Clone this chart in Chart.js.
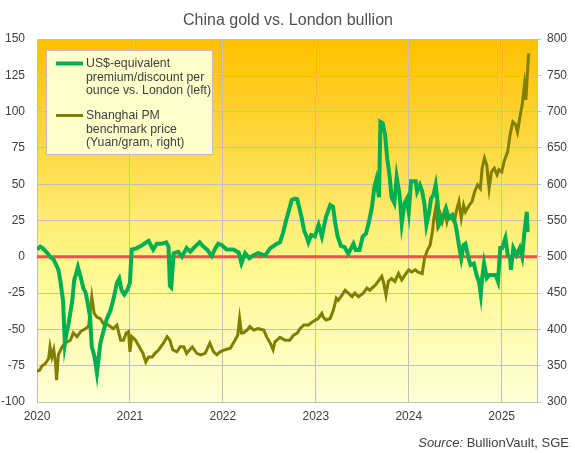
<!DOCTYPE html>
<html>
<head>
<meta charset="utf-8">
<script src="https://cdn.jsdelivr.net/npm/chart.js@4.4.1/dist/chart.umd.min.js"></script>
<style>
  html, body { margin: 0; padding: 0; background: #fff; }
  #wrap { width: 575px; height: 453px; position: relative; }
</style>
</head>
<body>
<div id="wrap"><canvas id="grafico"></canvas></div>
<script>
// Premium/discount in US$ per ounce (left axis)
const premiumDates = [
  2020.00, 2020.035, 2020.06, 2020.09, 2020.12, 2020.14, 2020.18, 2020.21, 2020.23, 2020.25,
  2020.28, 2020.30, 2020.32, 2020.34, 2020.38, 2020.40, 2020.42, 2020.44, 2020.47, 2020.50,
  2020.52, 2020.54, 2020.57, 2020.59, 2020.62, 2020.645, 2020.66, 2020.68, 2020.72, 2020.75,
  2020.79, 2020.82, 2020.86, 2020.885, 2020.91, 2020.94, 2020.97, 2021.00, 2021.01, 2021.02,
  2021.075, 2021.13, 2021.20, 2021.25, 2021.29, 2021.34, 2021.39, 2021.415, 2021.43, 2021.445,
  2021.47, 2021.52, 2021.56, 2021.61, 2021.65, 2021.70, 2021.75, 2021.79, 2021.83, 2021.88,
  2021.92, 2021.95, 2021.99, 2022.04, 2022.11, 2022.17, 2022.20, 2022.24, 2022.285, 2022.33,
  2022.38, 2022.455, 2022.51, 2022.58, 2022.615, 2022.65, 2022.68, 2022.715, 2022.74, 2022.77,
  2022.80, 2022.82, 2022.845, 2022.875, 2022.90, 2022.92, 2022.95, 2022.99, 2023.03, 2023.065,
  2023.11, 2023.155, 2023.185, 2023.21, 2023.235, 2023.27, 2023.31, 2023.35, 2023.38, 2023.405,
  2023.43, 2023.47, 2023.505, 2023.54, 2023.575, 2023.605, 2023.63, 2023.65, 2023.68, 2023.695,
  2023.72, 2023.745, 2023.77, 2023.795, 2023.815, 2023.845, 2023.87, 2023.90, 2023.925, 2023.955,
  2023.98, 2024.00, 2024.025, 2024.075, 2024.09, 2024.12, 2024.145, 2024.17, 2024.19, 2024.22,
  2024.24, 2024.265, 2024.29, 2024.31, 2024.325, 2024.36, 2024.40, 2024.43, 2024.47, 2024.505,
  2024.54, 2024.565, 2024.59, 2024.61, 2024.64, 2024.665, 2024.70, 2024.73, 2024.755, 2024.775,
  2024.79, 2024.81, 2024.84, 2024.865, 2024.90, 2024.935, 2024.96, 2024.985, 2025.005, 2025.04,
  2025.065, 2025.09, 2025.10, 2025.125, 2025.16, 2025.195, 2025.22, 2025.245, 2025.27, 2025.28
];
const premiumValues = [
  5, 7, 6, 4, 2, 0, -2, -6, -9, -16,
  -30, -60, -52, -46, -30, -16, -12, -7, -14, -22,
  -24, -30, -41, -62, -69, -80, -72, -60, -50, -43,
  -37, -30, -18, -15, -23, -26, -23, -18, -5, 5,
  6, 8, 11, 5, 9, 9, 10, 7, -20, -21,
  2.5, 3.5, 0, 6, 3.5, 7, 10, 7, 5, 0.5,
  6, 9, 8, 5, 5, 3, -4.5, 2.5, -1, 1,
  2.5, 1, 6, 9, 10, 17, 25, 33, 39, 40,
  39.6, 34.5, 27.6, 18, 14, 10, 15, 14, 22, 14,
  27.6, 35.7, 34.5, 23, 14, 7.5, 6.6, 2, 6, 9,
  4.7, 4.7, 14, 16, 25, 34.5, 48, 53, 41, 93,
  92, 84, 67, 55, 41, 37, 55, 43.5, 23, 37,
  40, 31, 52, 52, 45, 49.5, 45, 35.7, 22, 31,
  40, 42.5, 49.5, 38, 22, 26.5, 33.4, 26.5, 28.8, 22,
  8, -1, 8, 9, 0, -5.6, -4.5, -12.6, -17, -26,
  -14.6, -4.5, -14.6, -12.6, -12.6, -12.6, -17, 6, 6, 13,
  1.2, -1, -9, 6, 1.2, 6, 0, 17, 31, 17
];

// Shanghai PM benchmark, Yuan per gram (right axis)
const priceDates = [
  2020.00, 2020.03, 2020.05, 2020.09, 2020.125, 2020.14, 2020.16, 2020.18, 2020.20, 2020.21,
  2020.23, 2020.27, 2020.30, 2020.36, 2020.39, 2020.43, 2020.47, 2020.52, 2020.555, 2020.57,
  2020.59, 2020.615, 2020.645, 2020.68, 2020.715, 2020.77, 2020.82, 2020.86, 2020.90, 2020.93,
  2020.96, 2020.985, 2021.00, 2021.02, 2021.06, 2021.10, 2021.14, 2021.17, 2021.20, 2021.24,
  2021.27, 2021.31, 2021.36, 2021.40, 2021.43, 2021.46, 2021.505, 2021.54, 2021.58, 2021.61,
  2021.67, 2021.72, 2021.76, 2021.81, 2021.86, 2021.90, 2021.935, 2021.97, 2022.025, 2022.08,
  2022.13, 2022.16, 2022.18, 2022.20, 2022.22, 2022.26, 2022.29, 2022.33, 2022.38, 2022.44,
  2022.47, 2022.51, 2022.54, 2022.56, 2022.615, 2022.67, 2022.72, 2022.76, 2022.80, 2022.83,
  2022.87, 2022.92, 2022.97, 2023.025, 2023.065, 2023.08, 2023.11, 2023.155, 2023.19, 2023.22,
  2023.24, 2023.28, 2023.315, 2023.35, 2023.39, 2023.42, 2023.46, 2023.51, 2023.55, 2023.58,
  2023.64, 2023.67, 2023.71, 2023.73, 2023.755, 2023.78, 2023.815, 2023.85, 2023.89, 2023.925,
  2023.96, 2024.00, 2024.03, 2024.07, 2024.10, 2024.145, 2024.17, 2024.20, 2024.23, 2024.255,
  2024.27, 2024.29, 2024.31, 2024.34, 2024.36, 2024.39, 2024.41, 2024.43, 2024.46, 2024.49,
  2024.52, 2024.54, 2024.565, 2024.59, 2024.61, 2024.65, 2024.68, 2024.71, 2024.74, 2024.77,
  2024.79, 2024.815, 2024.84, 2024.865, 2024.89, 2024.92, 2024.95, 2024.97, 2025.00, 2025.03,
  2025.065, 2025.09, 2025.12, 2025.15, 2025.17, 2025.20, 2025.22, 2025.245, 2025.26, 2025.28,
  2025.29
];
const priceValues = [
  342, 344, 349, 353, 360, 376, 362, 372, 353, 330,
  365, 376, 381, 385, 395, 390, 397, 401, 404, 422,
  445, 422, 417, 415, 408, 406, 401, 406, 385, 385,
  395, 397, 369, 390, 385, 376, 367, 355, 362, 362,
  367, 372, 381, 390, 385, 372, 369, 376, 376, 367,
  376, 367, 365, 367, 381, 369, 365, 369, 372, 374,
  385, 392, 415, 395, 395, 399, 404, 399, 401, 399,
  390, 381, 372, 383, 389, 385, 385, 392, 395, 401,
  406, 406, 411, 415, 422, 417, 413, 415, 427, 443,
  440, 447, 454, 450, 445, 450, 445, 450, 457, 454,
  461, 466, 473, 464, 447, 466, 470, 466, 477, 468,
  475, 482, 479, 482, 479, 477, 498, 509, 516, 535,
  553, 567, 544, 558, 548, 562, 548, 558, 553, 548,
  567, 576, 553, 571, 562, 571, 576, 590, 599, 594,
  622, 636, 626, 594, 617, 622, 613, 620, 617, 633,
  645, 668, 686, 682, 672, 695, 709, 737, 716, 760,
  780
];

// Zero line of the premium axis
const zeroLineDates = [2020, 2025.38];
const zeroLineValues = [0, 0];

const fontFamily = '"Liberation Sans", Arial, sans-serif';
const textColor = '#404040';
const gridColor = '#BFBFBF';

function toPoints(xs, ys) {
  return xs.map((x, i) => ({ x: x, y: ys[i] }));
}

// Gradient background of the plot area
const fondo = {
  id: 'fondo',
  beforeDraw(chart) {
    const { ctx, chartArea: a } = chart;
    const g = ctx.createLinearGradient(0, a.top, 0, a.bottom);
    g.addColorStop(0, '#FFC000');
    g.addColorStop(0.35, '#FFDE4E');
    g.addColorStop(0.62, '#FFF88E');
    g.addColorStop(1, '#FFFFD6');
    ctx.save();
    ctx.fillStyle = g;
    ctx.fillRect(a.left, a.top, a.right - a.left, a.bottom - a.top);
    ctx.restore();
  }
};

// Title, legend box and source note
const textos = {
  id: 'textos',
  afterDraw(chart) {
    const ctx = chart.ctx;
    ctx.save();
    ctx.fillStyle = '#505050';
    ctx.font = '16px ' + fontFamily;
    ctx.textAlign = 'center';
    ctx.textBaseline = 'alphabetic';
    ctx.fillText('China gold vs. London bullion', 288, 25);

    // legend
    ctx.fillStyle = '#FFFFCC';
    ctx.fillRect(46.5, 50.5, 166, 104);
    ctx.strokeStyle = gridColor;
    ctx.lineWidth = 1;
    ctx.strokeRect(46.5, 50.5, 166, 104);

    ctx.lineWidth = 4;
    ctx.strokeStyle = '#00B050';
    ctx.beginPath(); ctx.moveTo(56, 63.5); ctx.lineTo(83, 63.5); ctx.stroke();
    ctx.lineWidth = 3;
    ctx.strokeStyle = '#7F7F00';
    ctx.beginPath(); ctx.moveTo(56, 115.5); ctx.lineTo(83, 115.5); ctx.stroke();

    ctx.fillStyle = textColor;
    ctx.font = '12.3px ' + fontFamily;
    ctx.textAlign = 'left';
    ctx.textBaseline = 'middle';
    const l1 = ['US$-equivalent', 'premium/discount per', 'ounce vs. London (left)'];
    const l2 = ['Shanghai PM', 'benchmark price', '(Yuan/gram, right)'];
    l1.forEach((t, i) => ctx.fillText(t, 86, 63.5 + i * 13.7));
    l2.forEach((t, i) => ctx.fillText(t, 86, 115.5 + i * 13.7));

    // source
    ctx.textBaseline = 'alphabetic';
    ctx.font = '13px ' + fontFamily;
    const resto = ' BullionVault, SGE';
    const w2 = ctx.measureText(resto).width;
    ctx.fillText(resto, 569 - w2, 446.5);
    ctx.font = 'italic 13px ' + fontFamily;
    const w1 = ctx.measureText('Source:').width;
    ctx.fillText('Source:', 569 - w2 - w1, 446.5);
    ctx.restore();
  }
};

const ctx = document.getElementById('grafico').getContext('2d');
new Chart(ctx, {
  type: 'line',
  data: {
    datasets: [{
      label: 'US$-equivalent premium/discount per ounce vs. London (left)',
      data: toPoints(premiumDates, premiumValues),
      borderColor: '#00B050',
      borderWidth: 4,
      pointRadius: 0,
      yAxisID: 'y',
      tension: 0
    }, {
      label: 'Shanghai PM benchmark price (Yuan/gram, right)',
      data: toPoints(priceDates, priceValues),
      borderColor: '#7F7F00',
      borderWidth: 3,
      pointRadius: 0,
      yAxisID: 'y2',
      tension: 0
    }, {
      label: 'zero',
      data: toPoints(zeroLineDates, zeroLineValues),
      borderColor: '#FF4B4B',
      borderWidth: 3,
      pointRadius: 0,
      yAxisID: 'y'
    }]
  },
  options: {
    responsive: true,
    maintainAspectRatio: false,
    animation: false,
    layout: { padding: { top: 39, left: 0, right: 0, bottom: 0 } },
    plugins: {
      legend: { display: false },
      tooltip: { enabled: false },
      title: { display: false }
    },
    scales: {
      x: {
        type: 'linear',
        min: 2020,
        max: 2025.38,
        afterFit: s => { s.height = 51; },
        ticks: {
          stepSize: 1,
          includeBounds: false,
          padding: 7,
          color: textColor,
          font: { family: fontFamily, size: 12 },
          callback: v => String(v)
        },
        grid: { color: gridColor, drawTicks: false },
        border: { color: gridColor }
      },
      y: {
        position: 'left',
        min: -100,
        max: 150,
        afterFit: s => { s.width = 37; },
        ticks: {
          stepSize: 25,
          padding: 12,
          color: textColor,
          font: { family: fontFamily, size: 12 }
        },
        grid: { color: gridColor, drawTicks: false },
        border: { color: gridColor }
      },
      y2: {
        position: 'right',
        min: 300,
        max: 800,
        afterFit: s => { s.width = 38; },
        ticks: {
          stepSize: 50,
          padding: 6,
          color: textColor,
          font: { family: fontFamily, size: 12 }
        },
        grid: { drawOnChartArea: false, color: gridColor, tickLength: 4 },
        border: { color: gridColor }
      }
    }
  },
  plugins: [fondo, textos]
});
</script>
</body>
</html>
